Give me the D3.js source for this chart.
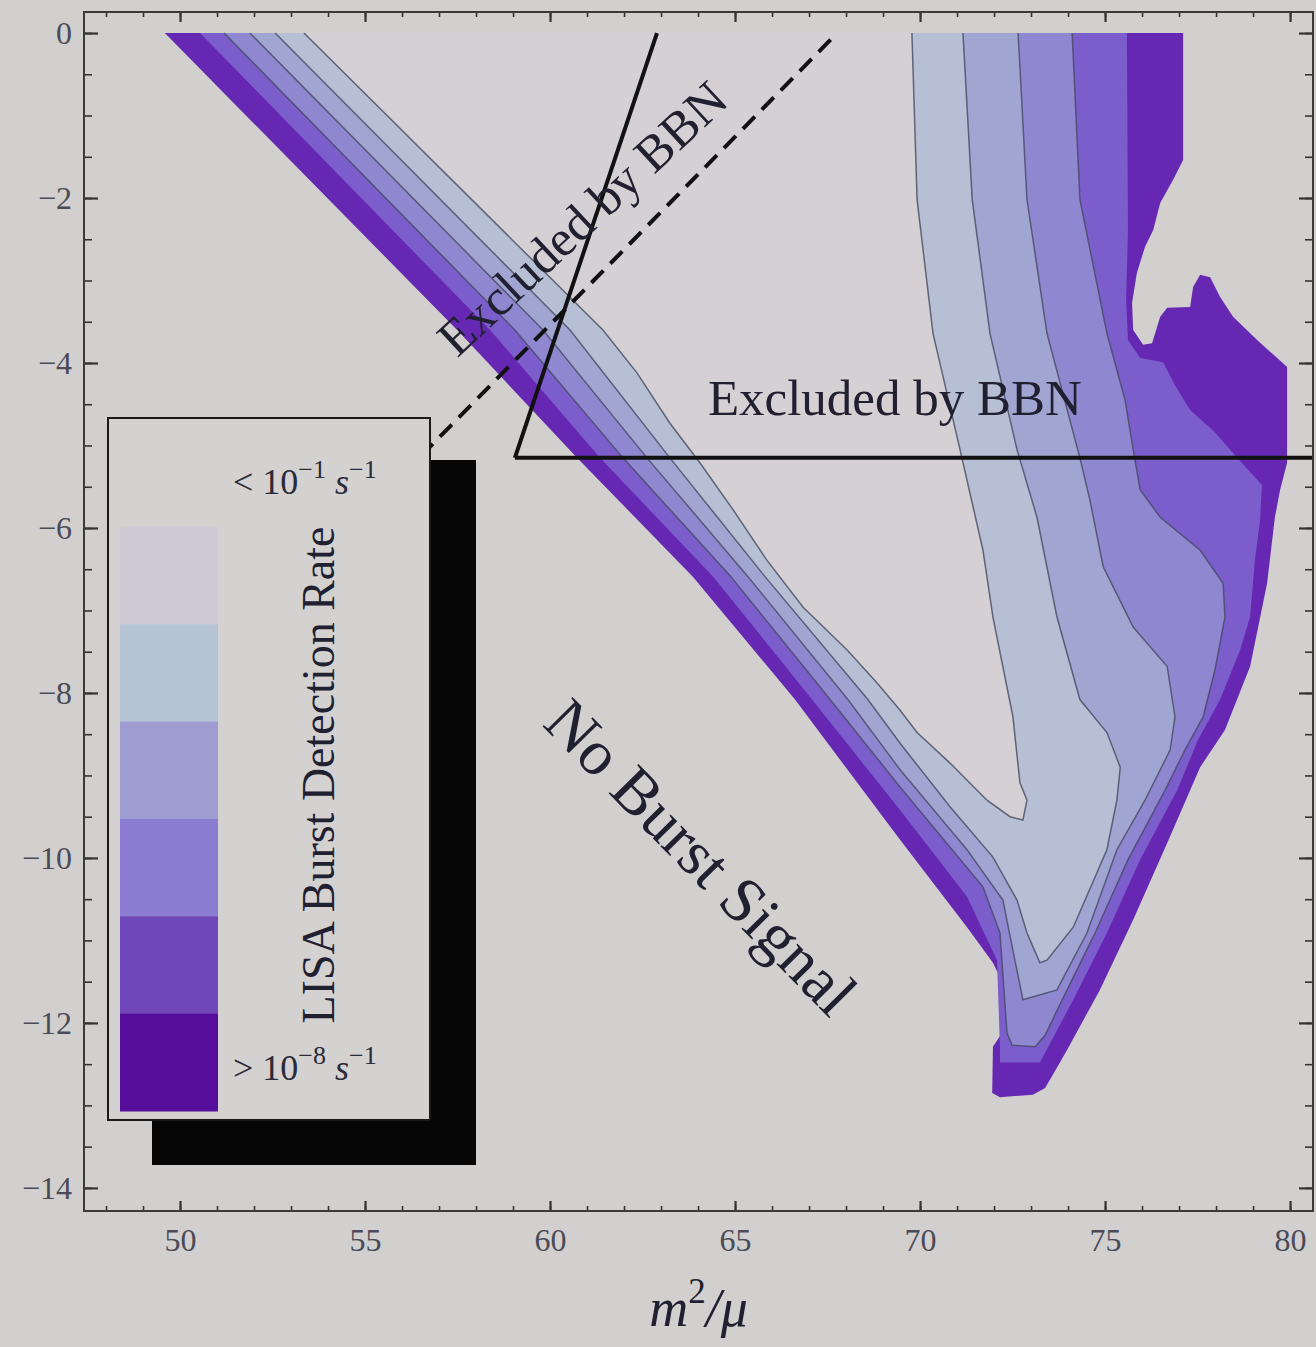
<!DOCTYPE html>
<html>
<head>
<meta charset="utf-8">
<script src="https://cdn.jsdelivr.net/npm/d3@7"></script>
<style>
  body { margin: 0; background: #d1d0ce; }
  svg text { font-family: "Liberation Serif", "Times New Roman", serif; }
</style>
</head>
<body>
<div id="chart"></div>
<script>
// axis ranges and ticks
var xDomain = [47.405, 80.62];
var yDomain = [-14.28, 0.255];
var xTicks = [50, 55, 60, 65, 70, 75, 80];
var yTicks = [0, -2, -4, -6, -8, -10, -12, -14];
var xMinor = d3.range(48, 81, 1);
var yMinor = d3.range(-14, 0.01, 0.5);

// nested contour regions (outermost first), points [m^2/mu, y]
var band1 = [[49.59,0],[57.49,-3.60],[60.73,-5.15],[63.86,-6.59],[66.62,-8.08],[69.46,-9.78],[71.27,-10.84],
  [71.97,-11.27],[72.24,-11.52],[72.16,-11.60],[72.22,-12.12],[71.97,-12.29],[71.95,-12.85],[72.16,-12.90],
  [73.05,-12.87],[73.38,-12.79],[73.97,-12.33],[74.86,-11.60],[75.76,-10.75],[76.68,-9.82],[77.57,-8.90],
  [78.24,-8.45],[78.92,-7.68],[79.38,-6.67],[79.59,-5.87],[79.73,-5.54],[79.92,-5.21],[79.92,-4.05],
  [79.11,-3.72],[78.46,-3.44],[78.11,-3.20],[77.84,-2.96],[77.57,-2.93],[77.38,-3.08],[77.30,-3.32],
  [76.68,-3.33],[76.49,-3.44],[76.27,-3.76],[76.03,-3.78],[75.76,-3.60],[75.73,-3.27],[75.86,-2.91],
  [76.08,-2.59],[76.30,-2.39],[76.49,-2.06],[76.84,-1.78],[77.11,-1.54],[77.11,0]];
var band2 = [[50.54,0],[58.38,-3.60],[61.35,-5.15],[64.41,-6.59],[67.08,-8.08],[69.46,-9.42],[71.27,-10.47],
  [72.08,-11.24],[72.16,-12.29],[72.16,-12.48],[73.24,-12.48],[74.14,-11.72],[75.05,-10.91],[75.95,-10.02],
  [76.95,-9.18],[77.51,-8.57],[78.11,-8.08],[78.65,-7.48],[78.92,-7.08],[79.05,-6.39],[79.19,-5.90],
  [79.24,-5.48],[78.57,-5.15],[77.97,-4.84],[77.30,-4.57],[76.89,-4.27],[76.57,-3.99],[75.95,-3.94],
  [75.62,-3.72],[75.57,-3.24],[75.62,-2.39],[75.59,0]];
var band3 = [[51.19,0],[59.05,-3.60],[61.97,-5.15],[64.89,-6.59],[67.57,-8.08],[69.46,-9.14],[71.70,-10.35],
  [72.16,-10.91],[72.35,-12.12],[72.49,-12.27],[73.11,-12.29],[73.38,-12.15],[73.84,-11.72],[74.73,-10.91],
  [75.62,-10.02],[76.62,-9.18],[77.16,-8.69],[77.65,-8.29],[77.97,-7.72],[78.24,-7.08],[78.19,-6.67],
  [77.57,-6.27],[76.49,-5.87],[75.95,-5.54],[75.76,-5.05],[75.54,-4.45],[75.05,-3.64],[74.32,-2.02],[74.11,0]];
var band4 = [[51.89,0],[59.81,-3.60],[62.62,-5.15],[65.35,-6.59],[68.05,-8.08],[69.46,-8.93],[71.27,-9.90],
  [72.24,-10.51],[72.51,-11.12],[72.78,-11.72],[73.70,-11.60],[74.51,-10.91],[75.32,-9.90],[76.08,-9.30],
  [76.76,-8.69],[76.89,-8.29],[76.68,-7.68],[75.76,-7.20],[74.95,-6.47],[74.59,-5.66],[74.32,-5.15],
  [73.43,-3.64],[72.89,-2.02],[72.65,0]];
var band5 = [[52.57,0],[60.54,-3.60],[63.24,-5.15],[65.81,-6.59],[68.59,-8.08],[69.46,-8.61],[70.81,-9.38],
  [71.97,-9.99],[72.62,-10.51],[72.89,-10.91],[73.24,-11.27],[73.43,-11.24],[74.14,-10.84],[75.05,-9.90],
  [75.32,-9.30],[75.41,-8.90],[75.05,-8.48],[74.32,-8.08],[73.70,-7.08],[73.16,-5.87],[72.62,-5.05],
  [71.89,-3.64],[71.41,-2.02],[71.16,0]];
var band6 = [[53.35,0],[61.43,-3.60],[62.35,-4.12],[63.24,-4.73],[64.05,-5.21],[64.95,-5.78],[65.86,-6.39],
  [66.84,-6.96],[68.03,-7.48],[68.84,-7.88],[69.46,-8.21],[69.92,-8.48],[70.81,-8.85],[71.81,-9.30],
  [72.43,-9.50],[72.78,-9.54],[72.89,-9.30],[72.70,-9.09],[72.51,-8.29],[71.97,-7.08],[71.70,-6.27],
  [71.08,-5.05],[70.35,-3.64],[69.92,-2.02],[69.78,0]];
var bands = [band1, band2, band3, band4, band5, band6];
var bandColors = ["#6628b2", "#7b5dcb", "#8f88d1", "#a1a5d2", "#b6bfd3", "#d5d0d3"];

// BBN exclusion lines
var bbnSolid = [[59.05,-5.15],[62.89,0]];
var bbnFloor = [[59.05,-5.15],[80.62,-5.15]];
var bbnDashed = [[56.0,-5.36],[67.76,0]];

// legend
var legendColors = ["#cdcad6", "#b5c3d4", "#9f9cd1", "#8a7cd0", "#7047b9", "#560e9a"];
var legendEnds = [{sign: "<", exp: "\u22121"}, {sign: ">", exp: "\u22128"}];

var w = 1316, h = 1347;
var x = d3.scaleLinear().domain(xDomain).range([84, 1313]);
var y = d3.scaleLinear().domain(yDomain).range([1211, 12]);

var svg = d3.select("#chart").append("svg")
    .attr("width", w)
    .attr("height", h);

svg.append("rect").attr("width", w).attr("height", h).attr("fill", "#d1d0ce");

var line = d3.line()
    .x(function(d) { return x(d[0]); })
    .y(function(d) { return y(d[1]); });

// filled regions
svg.selectAll(".band")
    .data(bands)
    .enter().append("path")
    .attr("class", "band")
    .attr("d", function(d) { return line(d) + "Z"; })
    .attr("fill", function(d, i) { return bandColors[i]; });

// contour lines (not along the top edge)
svg.selectAll(".contour")
    .data(bands.slice(2))
    .enter().append("path")
    .attr("class", "contour")
    .attr("d", line)
    .attr("fill", "none")
    .attr("stroke", "#454a62")
    .attr("stroke-opacity", 0.8)
    .attr("stroke-width", 1.5);

// BBN lines
svg.append("path").datum(bbnDashed).attr("d", line)
    .attr("fill", "none").attr("stroke", "#111").attr("stroke-width", 4)
    .attr("stroke-dasharray", "17,10");
svg.append("path").datum(bbnSolid).attr("d", line)
    .attr("fill", "none").attr("stroke", "#111").attr("stroke-width", 4);
svg.append("path").datum(bbnFloor).attr("d", line)
    .attr("fill", "none").attr("stroke", "#111").attr("stroke-width", 4);

// annotations
svg.append("text")
    .attr("transform", "translate(" + x(60.86) + "," + y(-2.24) + ") rotate(-43)")
    .attr("text-anchor", "middle").attr("dy", "0.35em")
    .attr("font-size", 51).attr("fill", "#202030")
    .text("Excluded by BBN");
svg.append("text")
    .attr("x", x(69.32)).attr("y", y(-4.41))
    .attr("text-anchor", "middle").attr("dy", "0.35em")
    .attr("font-size", 51).attr("fill", "#202030")
    .text("Excluded by BBN");
svg.append("text")
    .attr("transform", "translate(" + x(64.1) + "," + y(-9.98) + ") rotate(45.5)")
    .attr("text-anchor", "middle").attr("dy", "0.35em")
    .attr("font-size", 64).attr("fill", "#202030")
    .text("No Burst Signal");

// legend
var lg = svg.append("g");
lg.append("rect").attr("x", 152).attr("y", 460).attr("width", 324).attr("height", 705).attr("fill", "#060606");
lg.append("rect").attr("x", 108).attr("y", 418).attr("width", 322).attr("height", 702)
    .attr("fill", "#d3d2d0").attr("stroke", "#1a1a1a").attr("stroke-width", 2);

var sw = d3.scaleBand().domain(d3.range(legendColors.length)).range([527, 1111]);
lg.selectAll(".swatch")
    .data(legendColors)
    .enter().append("rect")
    .attr("class", "swatch")
    .attr("x", 120).attr("width", 98)
    .attr("y", function(d, i) { return sw(i); })
    .attr("height", sw.bandwidth() + 0.5)
    .attr("fill", function(d) { return d; });

var endY = [494, 1080];
legendEnds.forEach(function(d, i) {
  var t = lg.append("text").attr("x", 233).attr("y", endY[i]).attr("font-size", 36).attr("fill", "#2a2a38");
  t.append("tspan").text(d.sign + " 10");
  t.append("tspan").attr("dy", -16).attr("font-size", 26).text(d.exp);
  t.append("tspan").attr("dy", 16).attr("dx", 9).attr("font-style", "italic").text("s");
  t.append("tspan").attr("dy", -16).attr("font-size", 26).text("\u22121");
});

lg.append("text")
    .attr("transform", "translate(334,775) rotate(-90)")
    .attr("text-anchor", "middle")
    .attr("font-size", 46).attr("fill", "#202030")
    .text("LISA Burst Detection Rate");

// frame and ticks
function styleAxis(g, major) {
  g.attr("font-family", null).attr("font-size", null);
  g.select(".domain").remove();
  g.selectAll(".tick line").attr("stroke", "#333").attr("stroke-width", major ? 2.2 : 1.6);
  g.selectAll(".tick text").attr("font-size", 32).attr("fill", "#4b4b58");
}

svg.append("g").attr("transform", "translate(0,1211)")
    .call(d3.axisBottom(x).tickValues(xMinor).tickSizeInner(-5).tickFormat(""))
    .call(styleAxis, false);
svg.append("g").attr("transform", "translate(0,1211)")
    .call(d3.axisBottom(x).tickValues(xTicks).tickSizeInner(-10).tickPadding(17).tickFormat(d3.format("d")))
    .call(styleAxis, true);
svg.append("g").attr("transform", "translate(0,12)")
    .call(d3.axisTop(x).tickValues(xMinor).tickSizeInner(-5).tickFormat(""))
    .call(styleAxis, false);
svg.append("g").attr("transform", "translate(0,12)")
    .call(d3.axisTop(x).tickValues(xTicks).tickSizeInner(-10).tickFormat(""))
    .call(styleAxis, true);
svg.append("g").attr("transform", "translate(84,0)")
    .call(d3.axisLeft(y).tickValues(yMinor).tickSizeInner(-8).tickFormat(""))
    .call(styleAxis, false);
svg.append("g").attr("transform", "translate(84,0)")
    .call(d3.axisLeft(y).tickValues(yTicks).tickSizeInner(-14).tickPadding(12).tickFormat(d3.format("d")))
    .call(styleAxis, true);
svg.append("g").attr("transform", "translate(1313,0)")
    .call(d3.axisRight(y).tickValues(yMinor).tickSizeInner(-8).tickFormat(""))
    .call(styleAxis, false);
svg.append("g").attr("transform", "translate(1313,0)")
    .call(d3.axisRight(y).tickValues(yTicks).tickSizeInner(-14).tickFormat(""))
    .call(styleAxis, true);

svg.append("rect")
    .attr("x", x(xDomain[0])).attr("y", y(yDomain[1]))
    .attr("width", x(xDomain[1]) - x(xDomain[0]))
    .attr("height", y(yDomain[0]) - y(yDomain[1]))
    .attr("fill", "none").attr("stroke", "#3a3a3a").attr("stroke-width", 2);

// x axis title
var xt = svg.append("text")
    .attr("x", (x(xDomain[0]) + x(xDomain[1])) / 2).attr("y", 1326)
    .attr("text-anchor", "middle").attr("font-size", 54).attr("fill", "#202030")
    .attr("font-style", "italic");
xt.append("tspan").text("m");
xt.append("tspan").attr("dy", -23).attr("font-size", 35).attr("font-style", "normal").text("2");
xt.append("tspan").attr("dy", 23).text("/\u03bc");
</script>
</body>
</html>
